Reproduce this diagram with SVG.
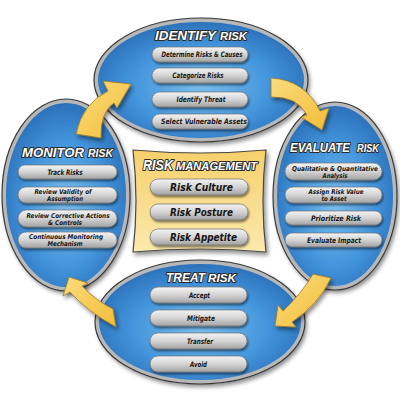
<svg xmlns="http://www.w3.org/2000/svg" width="400" height="400" viewBox="0 0 400 400">
<defs>
<radialGradient id="blue" cx="50%" cy="55%" r="55%">
<stop offset="0" stop-color="#78bdec"/>
<stop offset="0.6" stop-color="#4395dc"/>
<stop offset="1" stop-color="#2a70b9"/>
</radialGradient>
<linearGradient id="pill" x1="0" y1="0" x2="0" y2="1">
<stop offset="0" stop-color="#f4f4f4"/>
<stop offset="0.5" stop-color="#d4d4d4"/>
<stop offset="1" stop-color="#a2a2a2"/>
</linearGradient>
<linearGradient id="yel" x1="0" y1="0" x2="0" y2="1">
<stop offset="0" stop-color="#f6d06c"/>
<stop offset="1" stop-color="#fce9ad"/>
</linearGradient>
<linearGradient id="arr" x1="0" y1="0" x2="1" y2="1">
<stop offset="0" stop-color="#fbdc7c"/>
<stop offset="1" stop-color="#f2bd3a"/>
</linearGradient>
<filter id="sh" x="-20%" y="-20%" width="140%" height="140%">
<feGaussianBlur in="SourceAlpha" stdDeviation="2"/>
<feOffset dx="2" dy="3" result="b"/>
<feComponentTransfer><feFuncA type="linear" slope="0.45"/></feComponentTransfer>
<feMerge><feMergeNode/><feMergeNode in="SourceGraphic"/></feMerge>
</filter>
<filter id="psh" x="-10%" y="-30%" width="120%" height="170%">
<feGaussianBlur in="SourceAlpha" stdDeviation="0.8"/>
<feOffset dx="0.5" dy="1.5"/>
<feComponentTransfer><feFuncA type="linear" slope="0.5"/></feComponentTransfer>
<feMerge><feMergeNode/><feMergeNode in="SourceGraphic"/></feMerge>
</filter>
</defs>
<style>
.ell{fill:url(#blue);stroke:#b8b8b8;stroke-width:4}
.rim{fill:none;stroke:#3a3a3a;stroke-width:1.2}
.pill{fill:url(#pill);stroke:#707070;stroke-width:0.7}
.pt{font-family:"Liberation Sans Narrow","DejaVu Sans Condensed","Liberation Sans",sans-serif;font-weight:bold;font-style:italic;font-size:7.5px;fill:#151515;text-anchor:middle}
.pt2{font-size:6.6px}
.ct{font-size:11px}
.ttl{font-family:"Liberation Sans","DejaVu Sans",sans-serif;font-weight:bold;font-style:italic;fill:#ffffff;stroke:#2a2a2a;stroke-width:2;paint-order:stroke;stroke-linejoin:round}
.big{font-size:13px}
.sm{font-size:10px}
.arrow{fill:url(#arr);stroke:#9b7a28;stroke-width:0.8;stroke-linejoin:round}
</style>
<rect width="400" height="400" fill="#ffffff"/>

<g id="identify">
<g filter="url(#sh)"><ellipse class="ell" cx="201" cy="80" rx="105" ry="60"/></g>
<ellipse class="rim" cx="201" cy="80" rx="107" ry="62"/>
<text class="ttl big" x="155" y="40" textLength="61" lengthAdjust="spacingAndGlyphs">IDENTIFY</text>
<text class="ttl sm" x="220" y="40" textLength="27" lengthAdjust="spacingAndGlyphs">RISK</text>
<g filter="url(#psh)">
<rect class="pill" x="152" y="47" width="96" height="15" rx="7.5"/>
<rect class="pill" x="152" y="68" width="96" height="15" rx="7.5"/>
<rect class="pill" x="152" y="92" width="96" height="15" rx="7.5"/>
<rect class="pill" x="152" y="114" width="96" height="15" rx="7.5"/>
</g>
<text class="pt" x="202" y="57.2" textLength="81" lengthAdjust="spacingAndGlyphs">Determine Risks &amp; Causes</text>
<text class="pt" x="198" y="78.2" textLength="51" lengthAdjust="spacingAndGlyphs">Categorize Risks</text>
<text class="pt" x="201" y="102.2" textLength="49" lengthAdjust="spacingAndGlyphs">Identify Threat</text>
<text class="pt" x="204" y="124.2" textLength="86" lengthAdjust="spacingAndGlyphs">Select Vulnerable Assets</text>
</g>

<g id="evaluate">
<g filter="url(#sh)"><ellipse class="ell" cx="335" cy="196" rx="60" ry="92"/></g>
<ellipse class="rim" cx="335" cy="196" rx="62" ry="94"/>
<text class="ttl big" x="290" y="152" textLength="60" lengthAdjust="spacingAndGlyphs">EVALUATE</text>
<text class="ttl sm" x="357" y="152" textLength="22" lengthAdjust="spacingAndGlyphs">RISK</text>
<g filter="url(#psh)">
<rect class="pill" x="285" y="163" width="97" height="17" rx="8.5"/>
<rect class="pill" x="285" y="187" width="97" height="16" rx="8"/>
<rect class="pill" x="285" y="211" width="97" height="14" rx="7"/>
<rect class="pill" x="285" y="233" width="97" height="14" rx="7"/>
</g>
<text class="pt pt2" x="335" y="170.5" textLength="86" lengthAdjust="spacingAndGlyphs">Qualitative &amp; Quantitative</text>
<text class="pt pt2" x="335" y="177.5" textLength="25" lengthAdjust="spacingAndGlyphs">Analysis</text>
<text class="pt pt2" x="336" y="194" textLength="55" lengthAdjust="spacingAndGlyphs">Assign Risk Value</text>
<text class="pt pt2" x="334" y="201" textLength="25" lengthAdjust="spacingAndGlyphs">to Asset</text>
<text class="pt" x="336" y="220.6" textLength="50" lengthAdjust="spacingAndGlyphs">Prioritize Risk</text>
<text class="pt" x="334" y="242.6" textLength="54" lengthAdjust="spacingAndGlyphs">Evaluate Impact</text>
</g>

<g id="monitor">
<g filter="url(#sh)"><ellipse class="ell" cx="66" cy="195" rx="62" ry="94"/></g>
<ellipse class="rim" cx="66" cy="195" rx="64" ry="96"/>
<text class="ttl big" x="22" y="157" textLength="62" lengthAdjust="spacingAndGlyphs">MONITOR</text>
<text class="ttl sm" x="88" y="157" textLength="25" lengthAdjust="spacingAndGlyphs">RISK</text>
<g filter="url(#psh)">
<rect class="pill" x="18" y="165" width="99" height="14" rx="7"/>
<rect class="pill" x="18" y="187" width="99" height="16" rx="8"/>
<rect class="pill" x="18" y="210" width="99" height="17" rx="8.5"/>
<rect class="pill" x="18" y="232" width="99" height="16" rx="8"/>
</g>
<text class="pt" x="65" y="174.6" textLength="35" lengthAdjust="spacingAndGlyphs">Track Risks</text>
<text class="pt pt2" x="63" y="194" textLength="57" lengthAdjust="spacingAndGlyphs">Review Validity of</text>
<text class="pt pt2" x="65" y="201" textLength="36" lengthAdjust="spacingAndGlyphs">Assumption</text>
<text class="pt pt2" x="68" y="217.5" textLength="83" lengthAdjust="spacingAndGlyphs">Review Corrective Actions</text>
<text class="pt pt2" x="65" y="224.5" textLength="34" lengthAdjust="spacingAndGlyphs">&amp; Controls</text>
<text class="pt pt2" x="66" y="239" textLength="74" lengthAdjust="spacingAndGlyphs">Continuous Monitoring</text>
<text class="pt pt2" x="65" y="246" textLength="35" lengthAdjust="spacingAndGlyphs">Mechanism</text>
</g>

<g id="treat">
<g filter="url(#sh)"><ellipse class="ell" cx="200" cy="322" rx="103" ry="60"/></g>
<ellipse class="rim" cx="200" cy="322" rx="105" ry="62"/>
<text class="ttl big" x="166" y="282" textLength="39" lengthAdjust="spacingAndGlyphs">TREAT</text>
<text class="ttl sm" x="208" y="282" textLength="28" lengthAdjust="spacingAndGlyphs">RISK</text>
<g filter="url(#psh)">
<rect class="pill" x="150" y="287" width="97" height="16" rx="8"/>
<rect class="pill" x="150" y="310" width="97" height="16" rx="8"/>
<rect class="pill" x="150" y="333" width="97" height="16" rx="8"/>
<rect class="pill" x="150" y="356" width="97" height="16" rx="8"/>
</g>
<text class="pt" x="199.5" y="297.7" textLength="21" lengthAdjust="spacingAndGlyphs">Accept</text>
<text class="pt" x="201" y="320.7" textLength="28" lengthAdjust="spacingAndGlyphs">Mitigate</text>
<text class="pt" x="200" y="343.7" textLength="26" lengthAdjust="spacingAndGlyphs">Transfer</text>
<text class="pt" x="198.5" y="366.7" textLength="17" lengthAdjust="spacingAndGlyphs">Avoid</text>
</g>

<g id="risk-management">
<g filter="url(#sh)"><path d="M133,150 Q200,156 266,150 Q260,201 266,252 Q200,246 133,252 Q139,201 133,150 Z" fill="url(#yel)" stroke="#4a4a4a" stroke-width="1.2"/></g>
<text class="ttl" x="143" y="170" style="font-size:14px" textLength="30" lengthAdjust="spacingAndGlyphs">RISK</text>
<text class="ttl sm" x="176" y="170" textLength="81" lengthAdjust="spacingAndGlyphs">MANAGEMENT</text>
<g filter="url(#psh)">
<rect class="pill" x="150" y="179" width="98" height="16" rx="8"/>
<rect class="pill" x="150" y="204" width="98" height="16" rx="8"/>
<rect class="pill" x="150" y="229" width="98" height="16" rx="8"/>
</g>
<text class="pt ct" x="201.5" y="191" textLength="63" lengthAdjust="spacingAndGlyphs">Risk Culture</text>
<text class="pt ct" x="201.5" y="216" textLength="63" lengthAdjust="spacingAndGlyphs">Risk Posture</text>
<text class="pt ct" x="203.5" y="241" textLength="67" lengthAdjust="spacingAndGlyphs">Risk Appetite</text>
</g>

<g id="connectors" filter="url(#sh)">
<path class="arrow" d="M76,134 Q82,104 108,91 L103,81 L131,84 L117,108 L114,103 Q100,112 101,138 Z"/>
<path class="arrow" d="M271,78 Q305,80 320,111 L329,108 L322,130 L301,117 L307,115 Q297,96 271,97 Z"/>
<path class="arrow" d="M313,274 Q302,293 283,311 L278,305 L275,326 L296,327 L292,322 Q318,305 331,278 Z"/>
<path class="arrow" d="M116,327 Q88,312 70,292 L63,296 L69,277 L88,283 L82,286 Q95,300 113,309 Z"/>
</g>
</svg>
